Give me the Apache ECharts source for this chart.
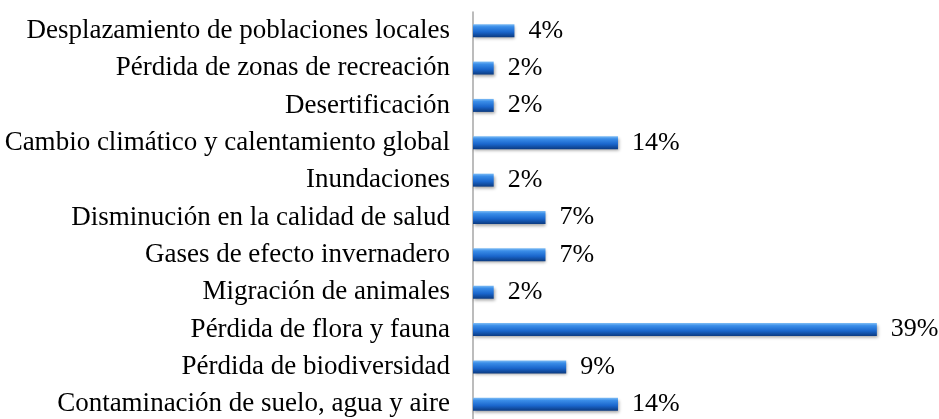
<!DOCTYPE html>
<html>
<head>
<meta charset="utf-8">
<script src="https://cdn.jsdelivr.net/npm/echarts@6/dist/echarts.min.js"></script>
<style>
    html, body { margin: 0; padding: 0; background: #fff; }
    #chart { width: 939px; height: 419px; }
</style>
</head>
<body>
<div id="chart"></div>
<script>
// categories from bottom to top
const categories = [
    'Contaminación de suelo, agua y aire',
    'Pérdida de biodiversidad',
    'Pérdida de flora y fauna',
    'Migración de animales',
    'Gases de efecto invernadero',
    'Disminución en la calidad de salud',
    'Inundaciones',
    'Cambio climático y calentamiento global',
    'Desertificación',
    'Pérdida de zonas de recreación',
    'Desplazamiento de poblaciones locales',
]
const values = [14, 9, 39, 2, 7, 7, 2, 14, 2, 2, 4]

const chart = echarts.init(document.getElementById('chart'))

const barColor = new echarts.graphic.LinearGradient(0, 0, 0, 1, [
    { offset: 0, color: '#7dbcf5' },
    { offset: 0.2, color: '#3a8de8' },
    { offset: 0.6, color: '#1a66cc' },
    { offset: 1, color: '#0b3a80' },
])

const option = {
    animation: false,
    grid: {
        left: 473,
        top: 12,
        right: 0,
        bottom: -4,
        outerBoundsMode: 'none',
        containLabel: false,
    },
    xAxis: {
        type: 'value',
        min: 0,
        max: 45,
        show: false,
    },
    yAxis: {
        type: 'category',
        data: categories,
        axisLine: { show: true, lineStyle: { color: '#a6a6a6', width: 1.5 } },
        axisTick: { show: false },
        axisLabel: {
            margin: 23,
            color: '#000',
            fontFamily: 'Liberation Serif',
            fontSize: 27,
        },
    },
    series: [
        {
            type: 'bar',
            data: values,
            barWidth: 13,
            itemStyle: {
                color: barColor,
                shadowColor: 'rgba(0,0,0,0.35)',
                shadowBlur: 3,
                shadowOffsetY: 2,
                shadowOffsetX: 1,
            },
            label: {
                show: true,
                position: 'right',
                distance: 14,
                formatter: '{c}%',
                color: '#000',
                fontFamily: 'Liberation Serif',
                fontSize: 26,
            },
        },
    ],
}
chart.setOption(option)
</script>
</body>
</html>
